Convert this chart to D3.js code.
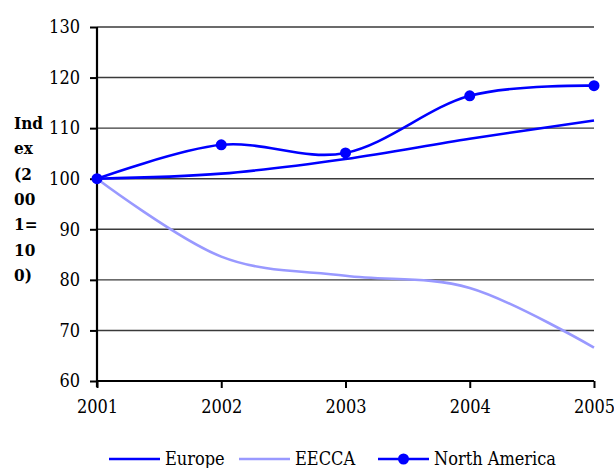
<!DOCTYPE html>
<html>
<head>
<meta charset="utf-8">
<script src="https://cdn.jsdelivr.net/npm/d3@7"></script>
<style>
  html, body { margin: 0; padding: 0; background: #fff; }
  svg text { font-family: "DejaVu Serif Condensed", "DejaVu Serif", serif; font-stretch: condensed; }
</style>
</head>
<body>
<svg id="chart" width="614" height="468"></svg>
<script>
// Index values, 2001 = 100
const years = [2001, 2002, 2003, 2004, 2005];
const europe = [100, 101.0, 103.9, 107.9, 111.5];
const eecca = [100, 84.6, 80.8, 78.4, 66.6];
const northAmerica = [100, 106.7, 105.1, 116.4, 118.4];
const yTicks = [60, 70, 80, 90, 100, 110, 120, 130];
const yTitleLines = ["Ind", "ex", "(2", "00", "1=", "10", "0)"];

const series = [
  { name: "Europe", values: europe, color: "#0000ff", markers: false },
  { name: "EECCA", values: eecca, color: "#9999ff", markers: false },
  { name: "North America", values: northAmerica, color: "#0000ff", markers: true }
];

const svg = d3.select("#chart");
const x = d3.scaleLinear().domain([2001, 2005]).range([97, 594]);
const y = d3.scaleLinear().domain([60, 130]).range([381, 27]);

// horizontal gridlines
svg.append("g")
  .selectAll("line")
  .data(yTicks.filter(d => d > 60))
  .join("line")
  .attr("x1", x(2001)).attr("x2", x(2005))
  .attr("y1", d => y(d)).attr("y2", d => y(d))
  .attr("stroke", "#3a3a3a").attr("stroke-width", 1.4);

// y axis
const yAxis = svg.append("g")
  .attr("transform", `translate(${x(2001)},0)`)
  .call(d3.axisLeft(y).tickValues(yTicks).tickSize(7).tickPadding(10));
yAxis.attr("font-family", null);
yAxis.select(".domain").attr("stroke", "#000").attr("stroke-width", 2.2)
  .attr("d", `M0,${y(130)}V${y(60) + 6}`);
yAxis.selectAll(".tick line").attr("stroke", "#000").attr("stroke-width", 2);
yAxis.selectAll(".tick text").attr("font-size", 18).attr("fill", "#000");

// x axis
const xAxis = svg.append("g")
  .attr("transform", `translate(0,${y(60)})`)
  .call(d3.axisBottom(x).tickValues(years).tickFormat(d3.format("d")).tickSize(7).tickPadding(12));
xAxis.attr("font-family", null);
xAxis.select(".domain").attr("stroke", "#000").attr("stroke-width", 2.2)
  .attr("d", `M${x(2001)},0H${x(2005)}`);
xAxis.selectAll(".tick line").attr("stroke", "#000").attr("stroke-width", 2);
xAxis.selectAll(".tick text").attr("font-size", 18).attr("fill", "#000");

// y axis title, broken over narrow lines
svg.append("g")
  .selectAll("text")
  .data(yTitleLines)
  .join("text")
  .attr("x", 14)
  .attr("y", (d, i) => 129 + i * 25.3)
  .attr("font-size", 17)
  .attr("font-weight", "bold")
  .text(d => d);

// smoothed series lines
const line = d3.line()
  .x((d, i) => x(years[i]))
  .y(d => y(d))
  .curve(d3.curveCardinal.tension(0));

series.forEach(s => {
  svg.append("path")
    .datum(s.values)
    .attr("fill", "none")
    .attr("stroke", s.color)
    .attr("stroke-width", 2.6)
    .attr("d", line);
});

series.filter(s => s.markers).forEach(s => {
  svg.append("g")
    .selectAll("circle")
    .data(s.values)
    .join("circle")
    .attr("cx", (d, i) => x(years[i]))
    .attr("cy", d => y(d))
    .attr("r", 5.5)
    .attr("fill", s.color);
});

// legend
const legendX = [109, 239, 378];
const legend = svg.append("g").selectAll("g")
  .data(series)
  .join("g")
  .attr("transform", (d, i) => `translate(${legendX[i]},459)`);
legend.append("line")
  .attr("x1", 0).attr("x2", 51).attr("y1", 0).attr("y2", 0)
  .attr("stroke", d => d.color).attr("stroke-width", 2.6);
legend.filter(d => d.markers).append("circle")
  .attr("cx", 25.5).attr("cy", 0).attr("r", 5.5).attr("fill", d => d.color);
legend.append("text")
  .attr("x", 56).attr("y", 6)
  .attr("font-size", 18)
  .text(d => d.name);
</script>
</body>
</html>
